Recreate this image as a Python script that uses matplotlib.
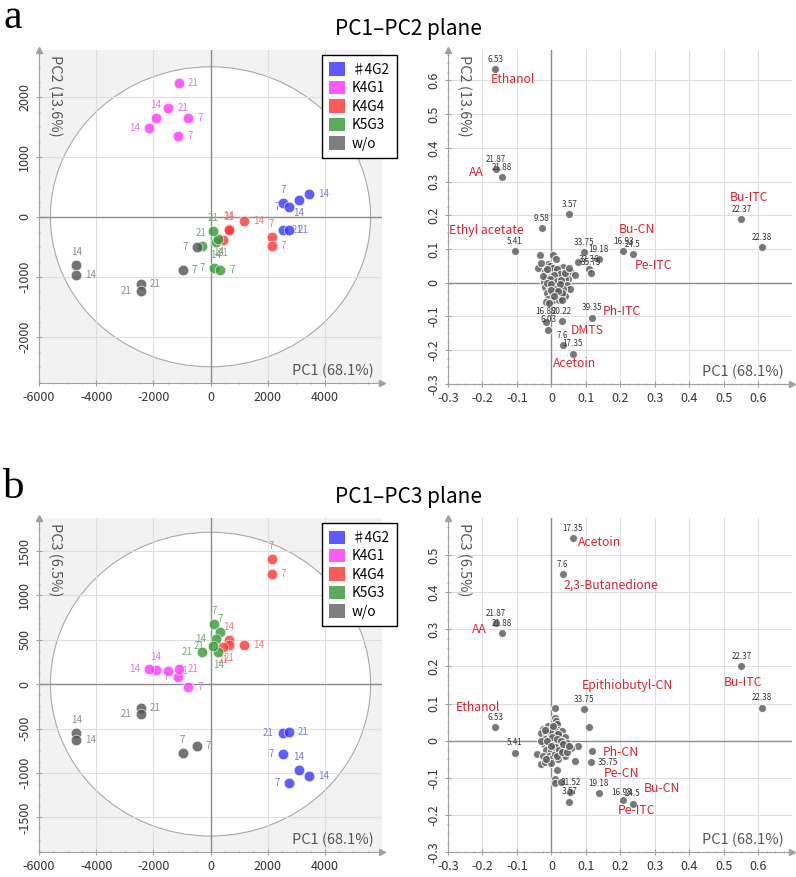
import matplotlib
matplotlib.use('Agg')
import matplotlib.pyplot as plt
import numpy as np
from matplotlib.patches import Ellipse, Patch
from matplotlib.ticker import AutoMinorLocator

plt.rcParams['font.family'] = ['Noto Sans CJK JP', 'DejaVu Sans']
plt.rcParams['axes.unicode_minus'] = False

# ---- score data (5 groups, days 7/7/14/14/21/21) ----
groups = ['♯4G2', 'K4G1', 'K4G4', 'K5G3', 'w/o']
days = [7, 7, 14, 14, 21, 21]
score_pc1 = [[2537, 2746, 3083, 3432, 2537, 2746],
             [-778, -1128, -1920, -2140, -1106, -1477],
             [2140, 2140, 1187, 640, 660, 443],
             [116, 349, 175, 268, 93, -314],
             [-977, -489, -4690, -4690, -2430, -2440]]
score_pc2 = [[228, 162, 272, 388, -222, -222],
             [1645, 1350, 1645, 1478, 2238, 1805],
             [-345, -483, -78, -205, -215, -383],
             [-855, -895, -422, -372, -245, -495],
             [-883, -511, -805, -978, -1117, -1233]]
score_pc3 = [[-787, -1109, -963, -1034, -554, -536],
             [-30, 75, 157, 169, 165, 150],
             [1404, 1244, 446, 502, 438, 419],
             [674, 588, 513, 363, 427, 363],
             [-779, -693, -554, -629, -266, -341]]

# ---- loadings, PC1-PC2 ----
load_a_id = ['6.53', '21.87', '21.88', '3.57', '9.58', '5.41', '33.75', '19.18', '32.36', '35.75',
             '16.93', '24.5', '22.37', '22.38', '39.35', '20.22', '16.88', '6.03', '7.6', '17.35']
load_a_pc1 = [-0.163, -0.161, -0.144, 0.052, -0.028, -0.106, 0.094, 0.137, 0.110, 0.115,
              0.209, 0.236, 0.551, 0.610, 0.117, 0.030, -0.016, -0.009, 0.033, 0.062]
load_a_pc2 = [0.633, 0.337, 0.3125, 0.203, 0.161, 0.094, 0.091, 0.069, 0.040, 0.029,
              0.094, 0.084, 0.188, 0.105, -0.104, -0.114, -0.115, -0.140, -0.185, -0.211]
other_a_pc1 = [0.077, -0.032, 0.004, 0.012, -0.011, -0.040, -0.005, 0.020, 0.035, 0.043, 0.057, 0.067,
               0.048, -0.020, -0.008, 0.005, 0.018, 0.030, -0.015, 0.000, 0.012, 0.025, 0.038, -0.022,
               -0.008, 0.005, 0.020, 0.032, 0.045, 0.055, -0.018, -0.005, 0.010, 0.022, 0.035, -0.012,
               0.002, 0.015, 0.028, 0.040, -0.010, 0.005, 0.022, -0.016, 0.030, -0.025,
               0.005, 0.015, -0.012, 0.025, 0.008, -0.004, 0.015, 0.028, -0.012, 0.000, 0.012, 0.025,
               -0.002, 0.020, 0.008, -0.006, 0.040, 0.050, -0.030, 0.030]
other_a_pc2 = [0.062, 0.081, 0.083, 0.071, 0.057, 0.045, 0.050, 0.045, 0.048, 0.022, 0.032, 0.024,
               0.010, 0.035, 0.030, 0.035, 0.028, 0.030, 0.015, 0.018, 0.012, 0.015, 0.012, 0.002,
               0.005, 0.000, 0.002, -0.002, -0.008, -0.018, -0.012, -0.015, -0.012, -0.015, -0.020, -0.030,
               -0.032, -0.030, -0.040, -0.040, -0.048, -0.050, -0.052, -0.058, -0.030, 0.020,
               0.045, 0.040, 0.042, 0.025, 0.022, 0.010, 0.005, 0.008, 0.000, -0.005, -0.020, -0.005,
               -0.022, -0.025, -0.040, -0.060, 0.030, 0.045, 0.060, -0.052]

# ---- loadings, PC1-PC3 ----
load_b_id = ['17.35', '7.6', '21.87', '21.88', '22.37', '22.38', '33.75', '6.53', '5.41', '35.75',
             '31.52', '3.57', '19.18', '16.93', '24.5']
load_b_pc1 = [0.062, 0.033, -0.161, -0.144, 0.551, 0.610, 0.094, -0.163, -0.106, 0.115,
              0.028, 0.052, 0.137, 0.209, 0.236]
load_b_pc3 = [0.546, 0.449, 0.316, 0.289, 0.201, 0.089, 0.085, 0.036, -0.033, -0.058,
              -0.112, -0.164, -0.142, -0.160, -0.170]
other_b_pc1 = [0.110, 0.117, 0.077, 0.057, 0.067, -0.043, -0.030, 0.015, 0.009, 0.009, 0.054,
               0.009, 0.009, 0.013, 0.015, -0.025, -0.010, 0.005, 0.020, 0.030, -0.030, -0.015, 0.000,
               0.012, 0.025, 0.038, -0.020, -0.005, 0.008, 0.020, 0.032, 0.045, -0.022, -0.008, 0.005,
               0.018, 0.030, 0.042, -0.015, 0.000, 0.012, 0.025, 0.038, -0.025, -0.008, 0.005, 0.018,
               -0.020, 0.000, 0.010, 0.020, -0.030,
               0.010, 0.018, -0.005, 0.002, 0.015, 0.028, -0.012, 0.010, 0.022, 0.000, 0.015, -0.015,
               0.030, -0.020, 0.035, 0.045, 0.005, 0.050]
other_b_pc3 = [0.038, -0.027, -0.013, -0.020, -0.055, -0.035, -0.064, -0.078, -0.103, -0.113, -0.139,
               0.088, 0.060, 0.052, 0.045, 0.032, 0.040, 0.035, 0.030, 0.025, 0.020, 0.022, 0.020,
               0.015, 0.012, 0.010, 0.005, 0.005, 0.002, 0.000, -0.002, -0.005, -0.010, -0.008, -0.012,
               -0.015, -0.018, -0.022, -0.025, -0.028, -0.030, -0.035, -0.040, -0.040, -0.042, -0.045, -0.050,
               -0.058, -0.060, -0.035, -0.010, 0.000,
               0.025, 0.018, 0.028, 0.010, 0.005, 0.000, -0.002, -0.018, -0.025, -0.015, -0.040, -0.050,
               -0.030, 0.030, -0.008, -0.030, 0.040, -0.015]

# red compound names: (name, anchor id, offset in px)
names_a = [('Ethanol', '6.53', (18, -10)), ('AA', '21.87', (-20, -3)), ('Ethyl acetate', '9.58', (-55, -2)),
           ('Bu-CN', '16.93', (13, 22)), ('Pe-ITC', '24.5', (21, -11)), ('Bu-ITC', '22.37', (8, 22)),
           ('Ph-ITC', '39.35', (30, 6)), ('DMTS', '20.22', (25, -9)), ('Acetoin', '17.35', (2, -10))]
names_b = [('Acetoin', '17.35', (27, -4)), ('2,3-Butanedione', '7.6', (48, -11)), ('AA', '21.87', (-17, -6)),
           ('Ethanol', '6.53', (-17, 20)), ('Epithiobutyl-CN', '33.75', (44, 24)), ('Bu-ITC', '22.37', (2, -16)),
           ('Ph-CN', '35.75', (30, 10)), ('Pe-CN', '35.75', (30, -11)), ('Bu-CN', '24.5', (29, 15)),
           ('Pe-ITC', '16.93', (13, -10))]
id_offsets_b = {'35.75': (17, 0), '31.52': (10, 0), '16.93': (-2, 8)}

# label side of each day number
sides_a = [['t', 'l', 'b', 'r', 'r', 'r'], ['r', 'r', 't', 'l', 'r', 'r'], ['t', 'r', 'r', 't', 't', 'b'],
           ['l', 'r', 'b', 'b', 't', 't'], ['r', 'l', 't', 'r', 'r', 'l']]
sides_b = [['l', 'l', 't', 'r', 'l', 'r'], ['r', 'l', 't', 'l', 'r', 'r'], ['t', 'r', 'r', 't', 'b', 'b'],
           ['t', 't', 'l', 'b', 'l', 'l'], ['t', 'r', 't', 'r', 'r', 'l']]
side_off = {'r': (9, 0, 'left', 'center'), 'l': (-9, 0, 'right', 'center'),
            't': (0, 8, 'center', 'bottom'), 'b': (0, -8, 'center', 'top')}

marker_colors = ['#3a3aff', '#ff3aff', '#ff3a3a', '#3a9a3a', '#555555']
legend_colors = ['#5a5aff', '#ff5aff', '#ff5a5a', '#5aaa5a', '#7f7f7f']
day_colors = ['#7a7ae6', '#e474e4', '#f07a7a', '#72a872', '#8c8c8c']
red = '#e0202c'
axcol = '#a0a0a0'


def fmt(v):
    return '%g' % round(v, 3)


def style_axes(ax, xlim, ylim, xticks, yticks, xlabel, ylabel):
    ax.set_xlim(xlim)
    ax.set_ylim(ylim)
    ax.set_xticks(xticks, labels=[fmt(v) for v in xticks])
    ax.set_yticks(yticks, labels=[fmt(v) for v in yticks], rotation=90, va='center')
    ax.xaxis.set_minor_locator(AutoMinorLocator(4))
    ax.yaxis.set_minor_locator(AutoMinorLocator(4))
    for s in ['top', 'right']:
        ax.spines[s].set_visible(False)
    for s in ['left', 'bottom']:
        ax.spines[s].set_color(axcol)
    ax.grid(True, color='#dedede', lw=0.8)
    ax.set_axisbelow(True)
    ax.axhline(0, color='#8c8c8c', lw=1, zorder=1)
    ax.axvline(0, color='#8c8c8c', lw=1, zorder=1)
    ax.tick_params(which='both', colors=axcol, labelcolor='#333333', labelsize=9, direction='inout')
    ax.tick_params(which='major', length=4)
    ax.tick_params(which='minor', length=2)
    ax.plot(0, 1, '^', transform=ax.transAxes, clip_on=False, color=axcol, ms=4, zorder=5)
    ax.plot(1, 0, '>', transform=ax.transAxes, clip_on=False, color=axcol, ms=4, zorder=5)
    ax.text(0.975, 0.015, xlabel, transform=ax.transAxes, ha='right', va='bottom', fontsize=10.5, color='#555555')
    ax.text(0.025, 0.985, ylabel, transform=ax.transAxes, ha='left', va='top', rotation=-90,
            fontsize=10.5, color='#555555')


def score_panel(ax, pcy, sides, ylim, yticks, ylabel, ell_h):
    ax.set_facecolor('#f2f2f2')
    ax.add_patch(Ellipse((0, 0), 2 * 5600, 2 * ell_h, facecolor='white', edgecolor='#a8a8a8', lw=0.8, zorder=0.2))
    style_axes(ax, (-6000, 6000), ylim, [-6000, -4000, -2000, 0, 2000, 4000], yticks, 'PC1 (68.1%)', ylabel)
    for g in range(len(groups)):
        ax.scatter(score_pc1[g], pcy[g], s=58, color=marker_colors[g], alpha=0.82,
                   edgecolors='white', linewidths=0.5, zorder=3)
        for x, y, d, sd in zip(score_pc1[g], pcy[g], days, sides[g]):
            dx, dy, ha, va = side_off[sd]
            ax.annotate(str(d), (x, y), xytext=(dx, dy), textcoords='offset pixels', ha=ha, va=va,
                        fontsize=7, color=day_colors[g], zorder=2)
    handles = [Patch(facecolor=c, edgecolor='none') for c in legend_colors]
    leg = ax.legend(handles, groups, loc='upper left', bbox_to_anchor=(0.825, 0.985), borderaxespad=0,
                    fontsize=9.8, handlelength=1.15, handleheight=1.15, labelspacing=0.3,
                    handletextpad=0.5, borderpad=0.55, fancybox=False, framealpha=1, edgecolor='black')
    leg.get_frame().set_linewidth(1.0)
    leg.set_zorder(10)


def loading_panel(ax, ids, px, py, ox, oy, names, ylim, yticks, ylabel, id_offsets):
    style_axes(ax, (-0.3, 0.698), ylim, np.round(np.arange(-0.3, 0.61, 0.1), 1), yticks,
               'PC1 (68.1%)', ylabel)
    ax.scatter(ox, oy, s=34, color='#5a5a5a', alpha=0.82, edgecolors='white', linewidths=0.8, zorder=3)
    ax.scatter(px, py, s=34, color='#5a5a5a', alpha=0.82, edgecolors='white', linewidths=0.8, zorder=3)
    for i, x, y in zip(ids, px, py):
        ax.annotate(i, (x, y), xytext=id_offsets.get(i, (0, 10)), textcoords='offset pixels',
                    ha='center', va='center', fontsize=5.8, color='#333333', zorder=4)
    for name, anchor, off in names:
        k = ids.index(anchor)
        ax.annotate(name, (px[k], py[k]), xytext=off, textcoords='offset pixels',
                    ha='center', va='center', fontsize=8.8, color=red, zorder=4)


fig = plt.figure(figsize=(7.96, 8.77), dpi=100)
ax1 = fig.add_axes([0.049, 0.5633, 0.4309, 0.3797])
ax2 = fig.add_axes([0.5628, 0.5622, 0.4322, 0.3808])
ax3 = fig.add_axes([0.049, 0.0285, 0.4309, 0.3808])
ax4 = fig.add_axes([0.5628, 0.0285, 0.4322, 0.3808])

score_panel(ax1, score_pc2, sides_a, (-2770, 2780), [-2000, -1000, 0, 1000, 2000], 'PC2 (13.6%)', 2500)
score_panel(ax3, score_pc3, sides_b, (-1890, 1870), [-1500, -1000, -500, 0, 500, 1000, 1500], 'PC3 (6.5%)', 1710)
loading_panel(ax2, load_a_id, load_a_pc1, load_a_pc2, other_a_pc1, other_a_pc2, names_a, (-0.3, 0.69),
              np.round(np.arange(-0.3, 0.61, 0.1), 1), 'PC2 (13.6%)', {})
loading_panel(ax4, load_b_id, load_b_pc1, load_b_pc3, other_b_pc1, other_b_pc3, names_b, (-0.3, 0.6),
              np.round(np.arange(-0.3, 0.51, 0.1), 1), 'PC3 (6.5%)', id_offsets_b)

fig.text(0.5126, 0.960, 'PC1–PC2 plane', ha='center', va='baseline', fontsize=15)
fig.text(0.5126, 0.4265, 'PC1–PC3 plane', ha='center', va='baseline', fontsize=15)
fig.text(0.004, 0.968, 'a', ha='left', va='baseline', fontsize=30, family='Liberation Serif')
fig.text(0.004, 0.432, 'b', ha='left', va='baseline', fontsize=31, family='Liberation Serif')

fig.savefig('out.png', dpi=100)
